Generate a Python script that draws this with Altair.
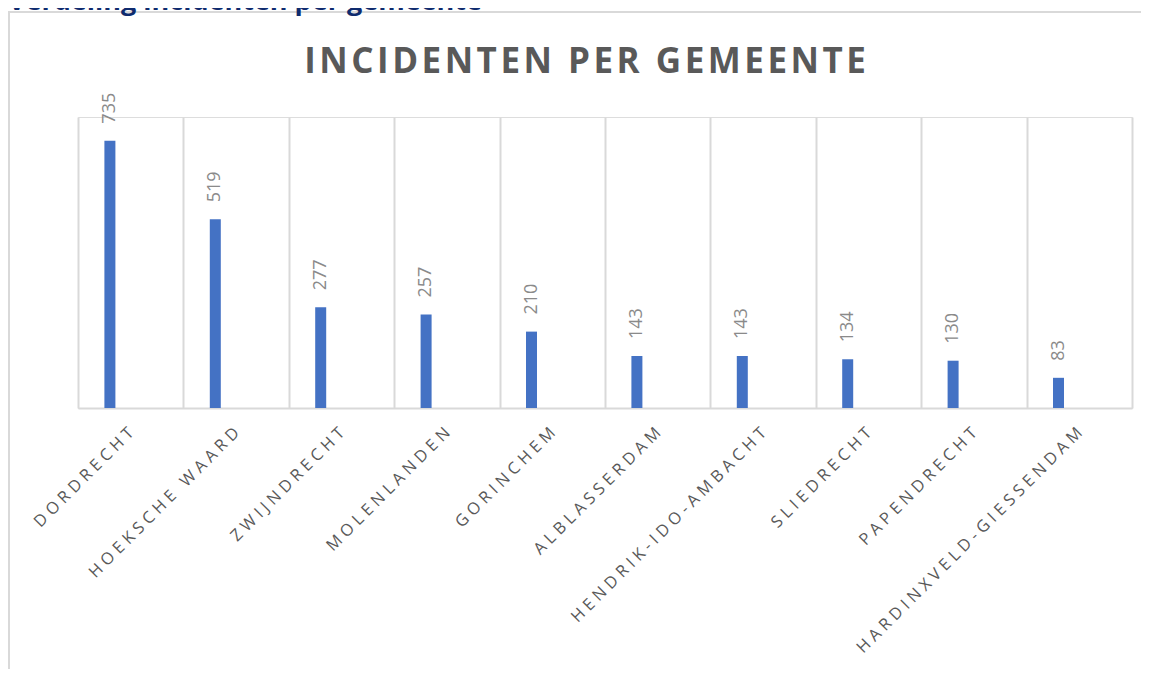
import altair as alt
import pandas as pd

gemeenten = ["DORDRECHT", "HOEKSCHE WAARD", "ZWIJNDRECHT", "MOLENLANDEN", "GORINCHEM",
             "ALBLASSERDAM", "HENDRIK-IDO-AMBACHT", "SLIEDRECHT", "PAPENDRECHT",
             "HARDINXVELD-GIESSENDAM"]
incidenten = [735, 519, 277, 257, 210, 143, 143, 134, 130, 83]
chart_title = "INCIDENTEN PER GEMEENTE"
heading = "Verdeling incidenten per gemeente"

df = pd.DataFrame({"gemeente": gemeenten, "incidenten": incidenten})
one = pd.DataFrame({"t": [chart_title], "h": [heading]})

W, H = 1054, 291
OFF = -20.8

frame = alt.Chart(one).mark_rect(fill=None, stroke="#d9d9d9", strokeWidth=2).encode(
    x=alt.value(-69), x2=alt.value(1200), y=alt.value(-105), y2=alt.value(700)
)

head = alt.Chart(one).mark_text(
    font="Open Sans", fontSize=27, fontWeight="bold", color="#0f2b6e",
    align="left", baseline="alphabetic"
).encode(x=alt.value(-70), y=alt.value(-107), text="h:N")

title = alt.Chart(one).transform_calculate(
    ts="join(split(datum.t, ''), '\u200a')"
).mark_text(
    font="Open Sans", fontSize=35, fontWeight="bold", color="#595959",
    align="center", baseline="alphabetic"
).encode(x=alt.value(507), y=alt.value(-44), text="ts:N")

xenc = alt.X(
    "gemeente:N", sort=None, title=None,
    scale=alt.Scale(paddingInner=0, paddingOuter=0),
    axis=alt.Axis(
        tickBand="extent", grid=True, gridColor="#d9d9d9", gridWidth=2,
        domainColor="#d9d9d9", domainWidth=2, ticks=False,
        labelAngle=-45, labelAlign="right", labelBaseline="middle",
        labelPadding=22, labelFont="Open Sans", labelFontSize=16.5,
        labelColor="#595959", labelLimit=1000,
        labelExpr="join(split(datum.label, ''), '\u2009\u200a')",
    ),
)
yenc = alt.Y("incidenten:Q", scale=alt.Scale(domain=[0, 800]), axis=None)

bars = alt.Chart(df).mark_bar(size=11, xOffset=OFF, color="#4472C4").encode(x=xenc, y=yenc)

labels = alt.Chart(df).mark_text(
    angle=270, align="left", baseline="middle", dx=17, xOffset=OFF,
    font="Open Sans", fontSize=18, color="#8a8a8a"
).encode(x=xenc, y=yenc, text="incidenten:Q")

chart = alt.layer(frame, bars, labels, title, head).properties(
    width=W, height=H,
    autosize=alt.AutoSizeParams(type="none"),
    padding={"left": 70, "top": 109, "right": 9, "bottom": 261},
).configure_view(stroke=None).configure(background="white")

chart.save("out.html", embed_options={"renderer": "svg", "actions": False})
